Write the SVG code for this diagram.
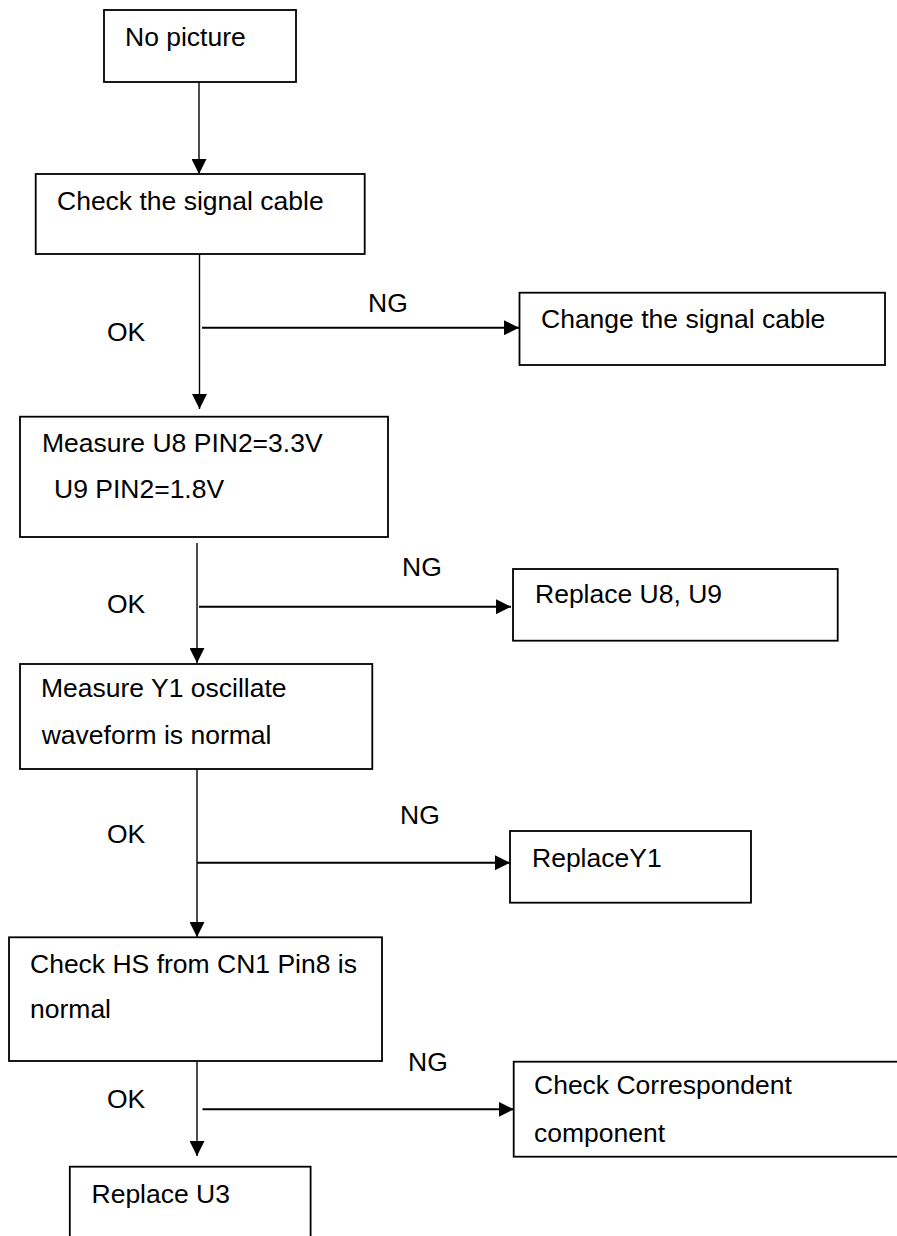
<svg xmlns="http://www.w3.org/2000/svg" width="897" height="1236" viewBox="0 0 897 1236">
<style>
.box{fill:#fff;stroke:#000;stroke-width:1.8}
.t{font-family:"Liberation Sans",Arial,sans-serif;font-size:26.5px;fill:#000}
.v{stroke:#000;stroke-width:1.4;fill:none}
.h{stroke:#000;stroke-width:2;fill:none}
</style>
<defs>
<marker id="ah" viewBox="0 0 15 15" refX="15" refY="7.5" markerWidth="15" markerHeight="15" markerUnits="userSpaceOnUse" orient="auto">
<path d="M0,0 L15,7.5 L0,15 z" fill="#000"/>
</marker>
</defs>
<rect width="897" height="1236" fill="#fff"/>
<g id="connectors">
<line class="v" x1="199" y1="82" x2="199" y2="174" marker-end="url(#ah)"/>
<line class="v" x1="199.5" y1="254" x2="199.5" y2="409" marker-end="url(#ah)"/>
<line class="h" x1="202" y1="327.7" x2="519" y2="327.7" marker-end="url(#ah)"/>
<line class="v" x1="197" y1="543" x2="197" y2="663" marker-end="url(#ah)"/>
<line class="h" x1="199" y1="606.7" x2="511" y2="606.7" marker-end="url(#ah)"/>
<line class="v" x1="197" y1="769" x2="197" y2="937" marker-end="url(#ah)"/>
<line class="h" x1="197" y1="862.7" x2="510" y2="862.7" marker-end="url(#ah)"/>
<line class="v" x1="197" y1="1061" x2="197" y2="1156" marker-end="url(#ah)"/>
<line class="h" x1="202.5" y1="1109.3" x2="513.7" y2="1109.3" marker-end="url(#ah)"/>
<text class="t" x="107" y="341">OK</text>
<text class="t" x="368" y="312">NG</text>
<text class="t" x="402" y="576">NG</text>
<text class="t" x="107" y="613">OK</text>
<text class="t" x="400" y="824">NG</text>
<text class="t" x="107" y="843">OK</text>
<text class="t" x="408" y="1071">NG</text>
<text class="t" x="107" y="1108">OK</text>
</g>
<g id="n1">
<rect class="box" x="104" y="10" width="192" height="72"/>
<text class="t" x="125" y="46">No picture</text>
</g>
<g id="n2">
<rect class="box" x="35.7" y="174" width="329" height="80"/>
<text class="t" x="57" y="210">Check the signal cable</text>
</g>
<g id="n3">
<rect class="box" x="519.5" y="292.7" width="365.5" height="72.3"/>
<text class="t" x="541" y="328">Change the signal cable</text>
</g>
<g id="n4">
<rect class="box" x="20" y="416.7" width="368" height="120.3"/>
<text class="t" x="42" y="452">Measure U8 PIN2=3.3V</text>
<text class="t" x="54" y="498">U9 PIN2=1.8V</text>
</g>
<g id="n5">
<rect class="box" x="513" y="569" width="324.7" height="71.7"/>
<text class="t" x="535" y="603">Replace U8, U9</text>
</g>
<g id="n6">
<rect class="box" x="20" y="664" width="352.3" height="105"/>
<text class="t" x="41" y="697">Measure Y1 oscillate</text>
<text class="t" x="41.7" y="744">waveform is normal</text>
</g>
<g id="n7">
<rect class="box" x="510" y="831" width="241" height="71.7"/>
<text class="t" x="532" y="867">ReplaceY1</text>
</g>
<g id="n8">
<rect class="box" x="9" y="937.3" width="373" height="123.7"/>
<text class="t" x="30" y="973">Check HS from CN1 Pin8 is</text>
<text class="t" x="30" y="1018">normal</text>
</g>
<g id="n9">
<rect class="box" x="513.7" y="1061.7" width="390" height="95"/>
<text class="t" x="534" y="1094">Check Correspondent</text>
<text class="t" x="534" y="1142">component</text>
</g>
<g id="n10">
<rect class="box" x="69.8" y="1166.7" width="240.8" height="80"/>
<text class="t" x="91.5" y="1203">Replace U3</text>
</g>
</svg>
